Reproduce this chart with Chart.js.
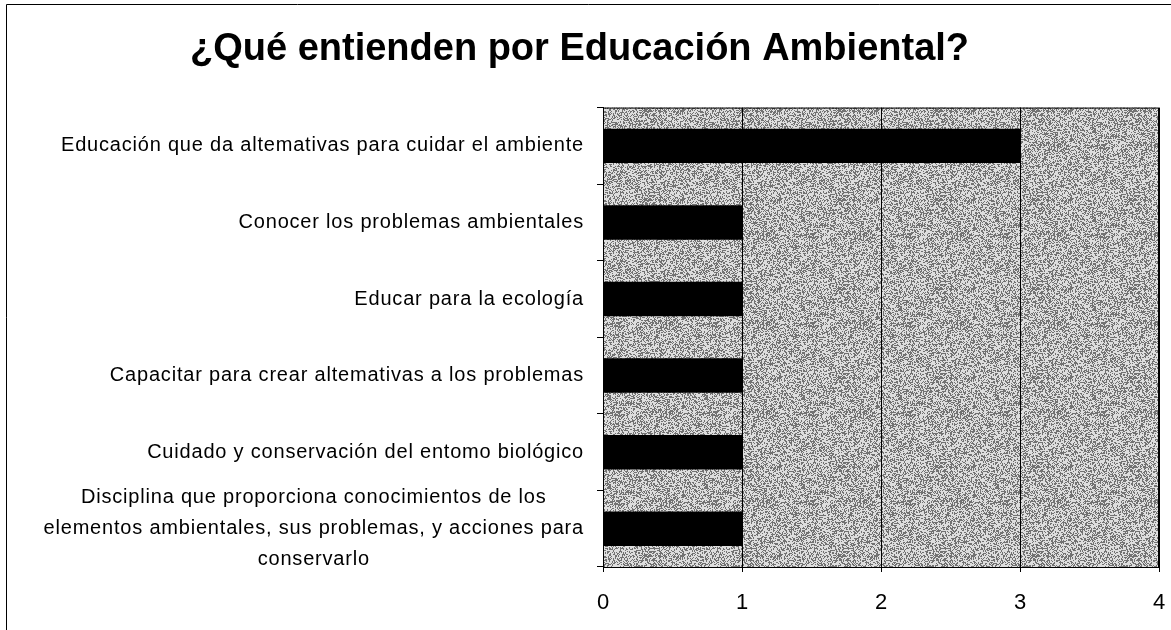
<!DOCTYPE html>
<html>
<head>
<meta charset="utf-8">
<script src="https://cdn.jsdelivr.net/npm/chart.js@4/dist/chart.umd.min.js"></script>
<style>
	html, body { margin: 0; padding: 0; background: #fff; }
	#wrap { width: 1171px; height: 630px; position: relative; }
</style>
</head>
<body>
<div id="wrap"><canvas id="chart" width="1171" height="630"></canvas></div>
<script>
const titleText = "¿Qué entienden por Educación Ambiental?";

const categories = [
	"Educación que da altemativas para cuidar el ambiente",
	"Conocer los problemas ambientales",
	"Educar para la ecología",
	"Capacitar para crear altemativas a los problemas",
	"Cuidado y conservación del entomo biológico",
	["Disciplina que proporciona conocimientos de los",
	 "elementos ambientales, sus problemas, y acciones para",
	 "conservarlo"]
];

const responses = [3, 1, 1, 1, 1, 1];

const xTicks = [0, 1, 2, 3, 4];

const labelFont = '20px "Liberation Sans", Arial, sans-serif';

// speckled gray fill like the printed/scanned original (fixed hash, not data)
function speckle() {
	const c = document.createElement("canvas");
	c.width = 97;
	c.height = 89;
	const g = c.getContext("2d");
	const img = g.createImageData(c.width, c.height);
	for (let i = 0; i < c.width * c.height; i++) {
		const h = Math.abs(Math.sin(i * 12.9898 + 78.233) * 43758.5453) % 1;
		const v = h < 0.42 ? 70 : 250;
		img.data[i * 4] = v;
		img.data[i * 4 + 1] = v;
		img.data[i * 4 + 2] = v;
		img.data[i * 4 + 3] = 255;
	}
	g.putImageData(img, 0, 0);
	return g.createPattern(c, "repeat");
}

// gray plot area + frame around it, plus the page border lines
const plotBackground = {
	id: "plotBackground",
	beforeDraw(chart) {
		const { ctx, chartArea: a } = chart;
		ctx.save();
		ctx.fillStyle = "#b4b4b4";
		ctx.fillRect(a.left, a.top, a.right - a.left, a.bottom - a.top);
		ctx.globalAlpha = 0.6;
		ctx.fillStyle = speckle();
		ctx.fillRect(a.left, a.top, a.right - a.left, a.bottom - a.top);
		ctx.globalAlpha = 1;
		ctx.strokeStyle = "#000";
		ctx.lineWidth = 1;
		ctx.beginPath();
		ctx.moveTo(6.5, 630);
		ctx.lineTo(6.5, 4.5);
		ctx.lineTo(1171, 4.5);
		ctx.stroke();
		ctx.restore();
	},
	afterDatasetsDraw(chart) {
		const { ctx, chartArea: a } = chart;
		ctx.save();
		ctx.strokeStyle = "#000";
		ctx.lineWidth = 1;
		ctx.strokeRect(a.left + 0.5, a.top + 0.5, a.right - a.left - 1, a.bottom - a.top);
		ctx.restore();
	}
};

// category labels: block right-aligned, lines centred inside the block
const categoryLabels = {
	id: "categoryLabels",
	afterDraw(chart) {
		const ctx = chart.ctx;
		const y = chart.scales.y;
		ctx.save();
		ctx.font = labelFont;
		ctx.letterSpacing = "0.8px";
		ctx.fillStyle = "#000";
		ctx.textAlign = "center";
		ctx.textBaseline = "middle";
		const right = 584;
		const lh = 31;
		categories.forEach(function(label, i) {
			const lines = Array.isArray(label) ? label : [label];
			const w = Math.max(...lines.map(l => ctx.measureText(l).width));
			const cx = right - w / 2;
			const cy = y.getPixelForValue(i);
			lines.forEach(function(line, j) {
				ctx.fillText(line, cx, cy + (j - (lines.length - 1) / 2) * lh);
			});
		});
		ctx.restore();
	}
};

new Chart(document.getElementById("chart"), {
	type: "bar",
	data: {
		labels: categories,
		datasets: [{
			data: responses,
			backgroundColor: "#000",
			borderWidth: 0,
			barPercentage: 0.45,
			categoryPercentage: 1
		}]
	},
	options: {
		indexAxis: "y",
		responsive: false,
		animation: false,
		layout: { padding: { left: 0, right: 12, top: 0, bottom: 0 } },
		plugins: {
			legend: { display: false },
			tooltip: { enabled: false },
			title: {
				display: true,
				text: titleText,
				color: "#000",
				font: { family: '"Liberation Sans", Arial, sans-serif', size: 38, weight: "bold", lineHeight: 1.2 },
				padding: { top: 27, bottom: 35 }
			}
		},
		scales: {
			x: {
				min: 0,
				max: 4,
				afterBuildTicks: function(scale) {
					scale.ticks = xTicks.map(v => ({ value: v }));
				},
				afterFit: function(scale) {
					scale.height = 63;
					scale.paddingRight = 0;
					scale.paddingLeft = 0;
				},
				grid: {
					color: "#000",
					lineWidth: 1,
					drawOnChartArea: true,
					tickLength: 5
				},
				border: { color: "#000", width: 1 },
				ticks: {
					color: "#000",
					padding: 18,
					maxRotation: 0,
					font: { family: '"Liberation Sans", Arial, sans-serif', size: 22 }
				}
			},
			y: {
				afterFit: function(scale) { scale.width = 603; },
				grid: {
					offset: true,
					drawOnChartArea: false,
					color: "#000",
					tickLength: 6
				},
				border: { color: "#000", width: 1 },
				ticks: { display: false }
			}
		}
	},
	plugins: [plotBackground, categoryLabels]
});
</script>
</body>
</html>
